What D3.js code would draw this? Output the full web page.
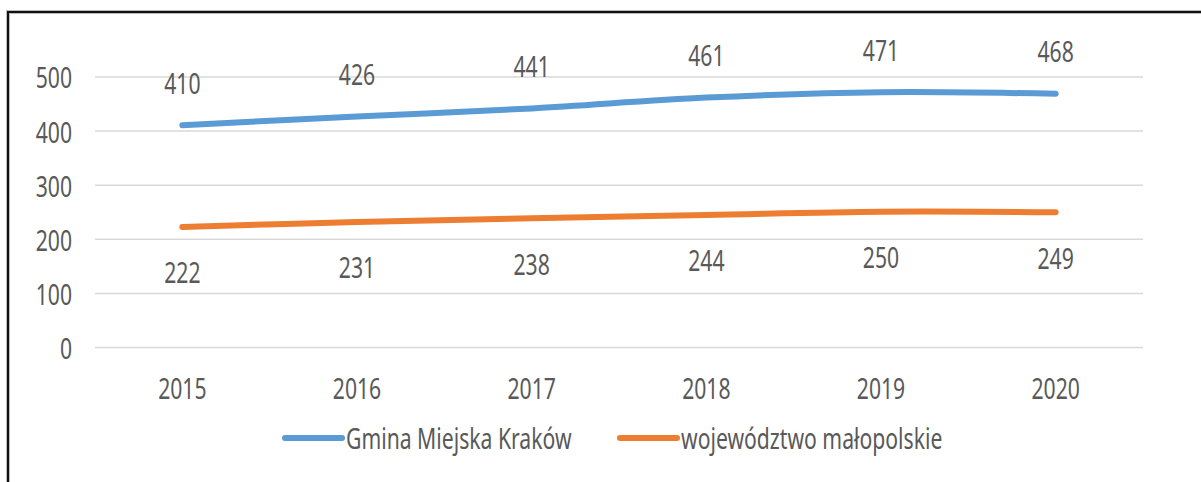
<!DOCTYPE html>
<html>
<head>
<meta charset="utf-8">
<script src="https://cdn.jsdelivr.net/npm/d3@7"></script>
<style>
  body { margin: 0; background: #fff; }
  svg text { font-family: "Noto Sans", sans-serif; fill: #595959; }
</style>
</head>
<body>
<svg id="chart" width="1201" height="482"></svg>
<script>
// data
var years = ["2015", "2016", "2017", "2018", "2019", "2020"];
var krakow = [410, 426, 441, 461, 471, 468];
var malopolska = [222, 231, 238, 244, 250, 249];
var yTicks = [0, 100, 200, 300, 400, 500];
var seriesNames = ["Gmina Miejska Kraków", "województwo małopolskie"];
var seriesColors = ["#5B9BD5", "#ED7D31"];

var svg = d3.select("#chart");
var fontSize = 29;
var squeeze = 0.73; // text in the picture is narrow

var plotLeft = 95, plotRight = 1143, plotTop = 76.5, plotBottom = 347;

// frame (top and left edge only visible)
svg.append("rect")
    .attr("x", 8).attr("y", 12)
    .attr("width", 1300).attr("height", 600)
    .attr("fill", "none")
    .attr("stroke", "#bbb")
    .attr("stroke-width", 4);
svg.append("rect")
    .attr("x", 8).attr("y", 12)
    .attr("width", 1300).attr("height", 600)
    .attr("fill", "none")
    .attr("stroke", "#111")
    .attr("stroke-width", 2);

var x = d3.scaleBand().domain(years).range([plotLeft, plotRight]);
var y = d3.scaleLinear().domain([0, 500]).range([plotBottom, plotTop]);

function cx(d) { return x(d) + x.bandwidth() / 2; }

// y axis + grid
var yAxis = svg.append("g")
    .attr("transform", "translate(" + plotLeft + ",0)")
    .call(d3.axisLeft(y).tickValues(yTicks).tickSize(-(plotRight - plotLeft)).tickFormat(d3.format("d")));
yAxis.attr("font-family", null).attr("font-size", null);
yAxis.select(".domain").remove();
yAxis.selectAll(".tick line").attr("stroke", "#d9d9d9").attr("stroke-width", 1.5);
yAxis.selectAll(".tick text")
    .attr("x", null).attr("dy", null)
    .attr("transform", "translate(-23,0) scale(" + squeeze + ",1)")
    .attr("text-anchor", "end")
    .attr("dominant-baseline", "central")
    .style("font-size", fontSize + "px")
    .attr("fill", null);

// x axis
var xAxis = svg.append("g")
    .attr("transform", "translate(0," + plotBottom + ")")
    .call(d3.axisBottom(x).tickSize(0));
xAxis.attr("font-family", null).attr("font-size", null);
xAxis.select(".domain").remove();
xAxis.selectAll(".tick text")
    .attr("y", null).attr("dy", null)
    .attr("transform", "translate(0,41) scale(" + squeeze + ",1)")
    .attr("text-anchor", "middle")
    .attr("dominant-baseline", "central")
    .style("font-size", fontSize + "px")
    .attr("fill", null);

function label(g, tx, ty, txt, anchor) {
    g.append("text")
        .attr("transform", "translate(" + tx + "," + ty + ") scale(" + squeeze + ",1)")
        .attr("text-anchor", anchor || "middle")
        .attr("dominant-baseline", "central")
        .style("font-size", fontSize + "px")
        .text(txt);
}

var line = d3.line()
    .x(function (d, i) { return cx(years[i]); })
    .y(function (d) { return y(d); })
    .curve(d3.curveCatmullRom.alpha(0.5));

[krakow, malopolska].forEach(function (vals, s) {
    svg.append("path")
        .attr("d", line(vals))
        .attr("fill", "none")
        .attr("stroke", seriesColors[s])
        .attr("stroke-width", 6)
        .attr("stroke-linecap", "round");
    var lg = svg.append("g");
    vals.forEach(function (v, i) {
        var off = s === 0 ? -43 : 45;
        label(lg, cx(years[i]), y(v) + off, v);
    });
});

// legend
var legendX = [285, 620];
var legendY = 438;
seriesNames.forEach(function (name, i) {
    svg.append("line")
        .attr("x1", legendX[i]).attr("x2", legendX[i] + 57)
        .attr("y1", legendY).attr("y2", legendY)
        .attr("stroke", seriesColors[i])
        .attr("stroke-width", 6)
        .attr("stroke-linecap", "round");
    label(svg, legendX[i] + 61, legendY, name, "start");
});
</script>
</body>
</html>
